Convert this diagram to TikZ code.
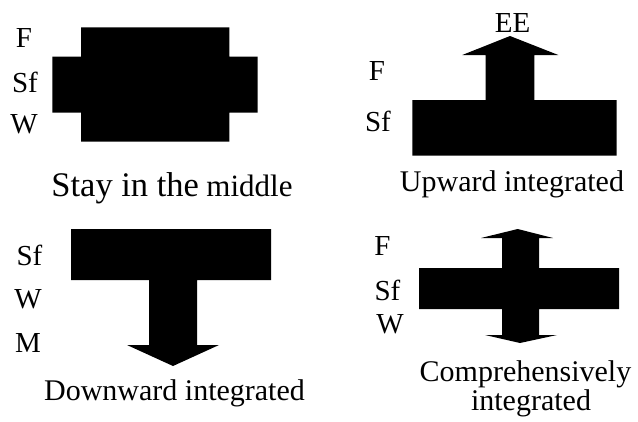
\documentclass[tikz,border=0pt]{standalone}
\usepackage{fontspec}
\setmainfont{Liberation Serif}
\begin{document}
\begin{tikzpicture}[x=1pt,y=-1pt,
  lbl/.style={anchor=base,inner sep=0pt,font=\fontsize{29}{32}\selectfont},
  captext/.style={anchor=base,inner sep=0pt,font=\fontsize{30}{34}\selectfont},
  blk/.style={fill=black,draw=none}]
\useasboundingbox (0,0) rectangle (638,421);

% --- Stay in the middle ---
\fill[blk] (81,27.3) -- (229.3,27.3) -- (229.3,56.7) -- (257.7,56.7) -- (257.7,112.7)
  -- (229.3,112.7) -- (229.3,141.7) -- (81,141.7) -- (81,112.7) -- (52.3,112.7)
  -- (52.3,56.7) -- (81,56.7) -- cycle;
\node[lbl] (mF)  at (24,47)  {F};
\node[lbl] (mSf) at (25,92.5) {Sf};
\node[lbl] (mW)  at (24,133) {W};
\node[captext] (mcap) at (172,196) {{\fontsize{34.5}{38}\selectfont Stay in the} {\fontsize{31}{34}\selectfont middle}};

% --- Upward integrated ---
\fill[blk] (412.3,155.7) -- (412.3,100) -- (485.7,100) -- (485.7,55) -- (462.3,55)
  -- (510,36) -- (558.3,55) -- (534.3,55) -- (534.3,100) -- (616.7,100)
  -- (616.7,155.7) -- cycle;
\node[lbl] (uEE) at (512.5,32) {EE};
\node[lbl] (uF)  at (377,80) {F};
\node[lbl] (uSf) at (378,131.5) {Sf};
\node[captext] (ucap) at (512,191) {Upward integrated};

% --- Downward integrated ---
\fill[blk] (71,229) -- (271,229) -- (271,280) -- (197,280) -- (197,345) -- (219,345)
  -- (173,366) -- (127,345) -- (149,345) -- (149,280) -- (71,280) -- cycle;
\node[lbl] (dSf) at (29.5,265) {Sf};
\node[lbl] (dW)  at (28,308) {W};
\node[lbl] (dM)  at (28,352) {M};
\node[captext] (dcap) at (174.5,400.5) {Downward integrated};

% --- Comprehensively integrated ---
\fill[blk] (419,268) -- (502,268) -- (502,238) -- (481,238) -- (517.7,229) -- (553,238)
  -- (539,238) -- (539,268) -- (619,268) -- (619,309) -- (539,309) -- (539,335)
  -- (557,335) -- (520,343) -- (485,335) -- (502,335) -- (502,309) -- (419,309) -- cycle;
\node[lbl] (cF)  at (382.5,255) {F};
\node[lbl] (cSf) at (387.5,300) {Sf};
\node[lbl] (cW)  at (390,333) {W};
\node[captext] (ccap1) at (525.5,381.5) {Comprehensively};
\node[captext] (ccap2) at (531,410) {integrated};
\end{tikzpicture}
\end{document}
